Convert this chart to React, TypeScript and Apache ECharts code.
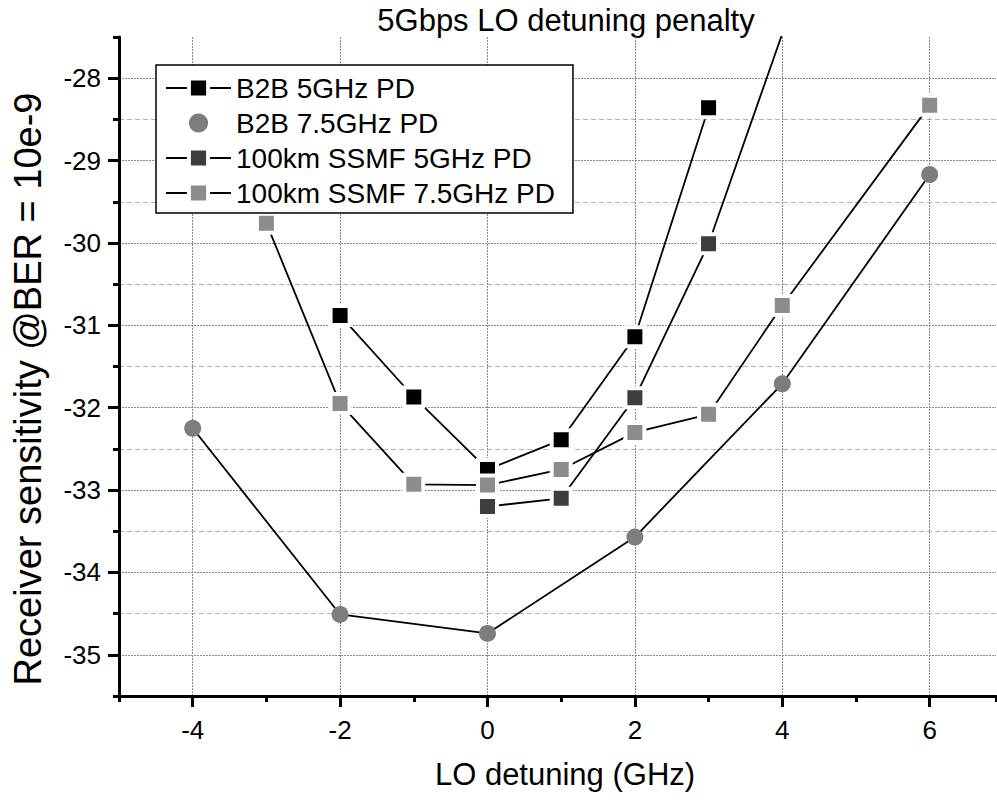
import React, { useEffect, useRef } from 'react';
import * as echarts from 'echarts';

const FONT = '"Liberation Sans", Arial, Helvetica, sans-serif';

const titleText = '5Gbps LO detuning penalty';
const xName = 'LO detuning (GHz)';
const yName = 'Receiver sensitivity @BER = 10e-9';

const seriesNames = ['B2B 5GHz PD', 'B2B 7.5GHz PD', '100km SSMF 5GHz PD', '100km SSMF 7.5GHz PD'];

const xMajorTicks = [-4, -2, 0, 2, 4, 6];
const yMajorTicks = [-35, -34, -33, -32, -31, -30, -29, -28];
const yHalfLines = [-34.5, -33.5, -32.5, -31.5, -30.5, -29.5, -28.5];

const b2b5x = [-2, -1, 0, 1, 2, 3];
const b2b5y = [-30.88, -31.87, -32.75, -32.39, -31.14, -28.36];

const b2b75x = [-4, -2, 0, 2, 4, 6];
const b2b75y = [-32.25, -34.51, -34.74, -33.57, -31.71, -29.17];

const ssmf5x = [0, 1, 2, 3, 4];
const ssmf5y = [-33.2, -33.1, -31.88, -30.01, -27.46];

const ssmf75x = [-3, -2, -1, 0, 1, 2, 3, 4, 6];
const ssmf75y = [-29.76, -31.95, -32.93, -32.94, -32.75, -32.3, -32.08, -30.76, -28.33];

const zip = (xs: number[], ys: number[]) => xs.map((x, i) => [x, ys[i]]);

export default function App() {
  const ref = useRef<HTMLDivElement>(null);

  useEffect(() => {
    if (!ref.current) return;
    const chart = echarts.init(ref.current, undefined, { renderer: 'svg' });

    const axisBlack = { color: '#000', width: 3 };
    const majorGrid = { color: '#8a8a8a', width: 1, type: [2, 1] as number[] };
    const minorGrid = { color: '#b4b4b4', width: 1, type: [5, 3] as number[] };
    const labelStyle = { fontSize: 26, color: '#000', fontFamily: FONT };

    const xBase = { type: 'value', position: 'bottom', min: -5, max: 6.9, interval: 1 };
    const yBase = { type: 'value', position: 'left', min: -35.5, max: -27.5, interval: 0.5 };

    const squareHalo = { borderColor: '#fff', borderWidth: 4 };

    chart.setOption({
      animation: false,
      backgroundColor: '#fff',
      grid: { left: 119, right: 1, top: 37, bottom: 107 },
      xAxis: [
        {
          ...xBase,
          axisLine: { show: true, onZero: false, lineStyle: axisBlack },
          axisTick: { show: true, length: 6, lineStyle: axisBlack },
          axisLabel: { show: false },
          splitLine: { show: false },
        },
        {
          ...xBase,
          axisLine: { show: false, onZero: false },
          axisTick: { show: true, length: 11, customValues: xMajorTicks, lineStyle: axisBlack },
          axisLabel: { show: true, customValues: xMajorTicks, margin: 21, ...labelStyle },
          splitLine: { show: true, lineStyle: majorGrid },
          name: xName,
          nameLocation: 'middle',
          nameGap: 63,
          nameTextStyle: { fontSize: 31, color: '#000', fontFamily: FONT, padding: [0, 0, 0, 15] },
        },
      ],
      yAxis: [
        {
          ...yBase,
          axisLine: { show: true, onZero: false, lineStyle: axisBlack },
          axisTick: { show: true, length: 6, lineStyle: axisBlack },
          axisLabel: { show: false },
          splitLine: { show: false },
        },
        {
          ...yBase,
          axisLine: { show: false, onZero: false },
          axisTick: { show: true, length: 11, customValues: yMajorTicks, lineStyle: axisBlack },
          axisLabel: { show: true, customValues: yMajorTicks, margin: 18, ...labelStyle },
          splitLine: { show: true, lineStyle: majorGrid },
        },
        {
          ...yBase,
          axisLine: { show: false, onZero: false },
          axisTick: { show: false, customValues: yHalfLines },
          axisLabel: { show: false },
          splitLine: { show: true, lineStyle: minorGrid },
        },
      ],
      legend: {
        orient: 'vertical',
        left: 156,
        top: 65,
        padding: [9, 18, 6, 9],
        itemGap: 7,
        itemWidth: 65,
        itemHeight: 24,
        borderColor: '#000',
        borderWidth: 1.5,
        backgroundColor: '#fff',
        selectedMode: false,
        textStyle: { fontSize: 28, color: '#000', fontFamily: FONT },
        data: [
          { name: seriesNames[0], itemStyle: squareHalo },
          { name: seriesNames[1], lineStyle: { opacity: 0 }, itemStyle: { borderWidth: 0 } },
          { name: seriesNames[2], itemStyle: squareHalo },
          { name: seriesNames[3], itemStyle: squareHalo },
        ],
      },
      series: [
        {
          name: seriesNames[0],
          type: 'line',
          data: zip(b2b5x, b2b5y),
          symbol: 'rect',
          symbolSize: 19,
          itemStyle: { color: '#000', ...squareHalo },
          lineStyle: { color: '#000', width: 1.8 },
        },
        {
          name: seriesNames[1],
          type: 'line',
          data: zip(b2b75x, b2b75y),
          symbol: 'circle',
          symbolSize: 17,
          itemStyle: { color: '#7d7d7d', borderWidth: 0 },
          lineStyle: { color: '#000', width: 1.8 },
        },
        {
          name: seriesNames[2],
          type: 'line',
          data: zip(ssmf5x, ssmf5y),
          symbol: 'rect',
          symbolSize: 19,
          itemStyle: { color: '#3d3d3d', ...squareHalo },
          lineStyle: { color: '#000', width: 1.8 },
        },
        {
          name: seriesNames[3],
          type: 'line',
          data: zip(ssmf75x, ssmf75y),
          symbol: 'rect',
          symbolSize: 19,
          itemStyle: { color: '#8c8c8c', ...squareHalo },
          lineStyle: { color: '#000', width: 1.8 },
        },
      ],
      graphic: [
        {
          type: 'text',
          x: 566,
          y: 20,
          style: {
            text: titleText,
            fontSize: 31,
            fontFamily: FONT,
            fill: '#000',
            textAlign: 'center',
            textVerticalAlign: 'middle',
          },
        },
        {
          type: 'text',
          x: 28,
          y: 389,
          rotation: Math.PI / 2,
          style: {
            text: yName,
            fontSize: 38,
            fontFamily: FONT,
            fill: '#000',
            textAlign: 'center',
            textVerticalAlign: 'middle',
          },
        },
      ],
    });

    return () => chart.dispose();
  }, []);

  return (
    <div
      ref={ref}
      style={{ position: 'absolute', left: 0, top: 0, width: 997, height: 803, background: '#fff' }}
    />
  );
}
